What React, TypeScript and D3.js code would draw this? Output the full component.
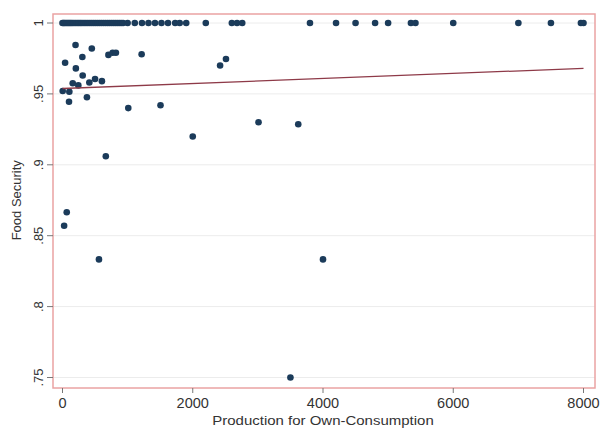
import React from "react";
import * as d3 from "d3";

// Households reporting full food security (score = 1)
const fullSecurityProduction = [
  0, 15, 30, 50, 70, 90, 110, 130, 150, 175, 200, 225, 250, 275, 300, 330, 360,
  390, 420, 450, 480, 510, 540, 570, 600, 630, 660, 690, 720, 750, 780, 810,
  840, 870, 900, 930, 1000, 1110, 1220, 1320, 1420, 1520, 1620, 1730, 1800,
  1900, 2200, 2600, 2680, 2760, 3800, 4200, 4500, 4800, 5000, 5350, 5420,
  6000, 7000, 7500, 7960, 8000,
];

// Households with food security below 1
const partialProduction = [
  200, 450, 305, 40, 205, 310, 705, 770, 820, 1215, 157, 243, 412, 500, 605,
  3, 105, 100, 375, 1010, 1505, 2420, 2510, 3010, 3620, 2000, 665, 65, 25, 560,
  4000, 3500,
];
const partialSecurity = [
  0.9845, 0.982, 0.976, 0.972, 0.968, 0.963, 0.9775, 0.979, 0.979, 0.978,
  0.9575, 0.956, 0.958, 0.9605, 0.959, 0.952, 0.9515, 0.9445, 0.9476, 0.94,
  0.942, 0.97, 0.9746, 0.93, 0.9286, 0.92, 0.906, 0.8665, 0.857, 0.8333,
  0.8333, 0.75,
];

// Fitted linear trend endpoints
const fitProduction = [0, 8000];
const fitSecurity = [0.9538, 0.968];

const xTicks = [0, 2000, 4000, 6000, 8000];
const yTicks = [0.75, 0.8, 0.85, 0.9, 0.95, 1];
const yTickLabels = [".75", ".8", ".85", ".9", ".95", "1"];

const W = 606;
const H = 428;
const frame = { left: 53, top: 14, right: 595, bottom: 388 };

export default function App() {
  const x = d3.scaleLinear().domain([0, 8000]).range([62.5, 583.5]);
  const y = d3.scaleLinear().domain([0.75, 1]).range([377.5, 23]);

  const points = [
    ...fullSecurityProduction.map((p) => ({ p, s: 1 })),
    ...partialProduction.map((p, i) => ({ p, s: partialSecurity[i] })),
  ];

  const fitLine = d3
    .line<number>()
    .x((d) => x(d))
    .y((_, i) => y(fitSecurity[i]));

  const font = "'Liberation Sans', Arial, sans-serif";

  return (
    <svg
      width={W}
      height={H}
      style={{ position: "absolute", left: 0, top: 0, background: "#fff" }}
    >
      <rect width={W} height={H} fill="#fff" />
      {/* horizontal grid */}
      {yTicks.map((t) => (
        <line
          key={"g" + t}
          x1={frame.left}
          x2={frame.right}
          y1={y(t)}
          y2={y(t)}
          stroke="#ececec"
          strokeWidth={1}
        />
      ))}
      {/* plot frame */}
      <rect
        x={frame.left}
        y={frame.top}
        width={frame.right - frame.left}
        height={frame.bottom - frame.top}
        fill="none"
        stroke="#eaa3a3"
        strokeWidth={1.5}
      />
      {/* y axis ticks and labels */}
      {yTicks.map((t, i) => (
        <g key={"y" + t}>
          <line
            x1={frame.left - 6}
            x2={frame.left}
            y1={y(t)}
            y2={y(t)}
            stroke="#777"
            strokeWidth={1}
          />
          <text
            transform={`translate(${frame.left - 10},${y(t)}) rotate(-90)`}
            textAnchor="middle"
            fontFamily={font}
            fontSize={13}
            fill="#333"
          >
            {yTickLabels[i]}
          </text>
        </g>
      ))}
      <text
        transform={`translate(21,${(y(1) + y(0.75)) / 2}) rotate(-90)`}
        textAnchor="middle"
        fontFamily={font}
        fontSize={13}
        fill="#333"
      >
        Food Security
      </text>
      {/* x axis ticks and labels */}
      {xTicks.map((t) => (
        <g key={"x" + t}>
          <line
            x1={x(t)}
            x2={x(t)}
            y1={frame.bottom}
            y2={frame.bottom + 5}
            stroke="#777"
            strokeWidth={1}
          />
          <text
            x={x(t)}
            y={408}
            textAnchor="middle"
            fontFamily={font}
            fontSize={14.5}
            fill="#333"
          >
            {t}
          </text>
        </g>
      ))}
      <text
        transform={`translate(${(x(0) + x(8000)) / 2},424.5) scale(1,0.86)`}
        textAnchor="middle"
        fontFamily={font}
        fontSize={15}
        fill="#333"
      >
        Production for Own-Consumption
      </text>
      {/* observations */}
      {points.map((d, i) => (
        <circle key={i} cx={x(d.p)} cy={y(d.s)} r={3.3} fill="#1b3b5a" />
      ))}
      {/* linear fit */}
      <path
        d={fitLine(fitProduction) || ""}
        fill="none"
        stroke="#8e3a48"
        strokeWidth={1.3}
      />
    </svg>
  );
}
